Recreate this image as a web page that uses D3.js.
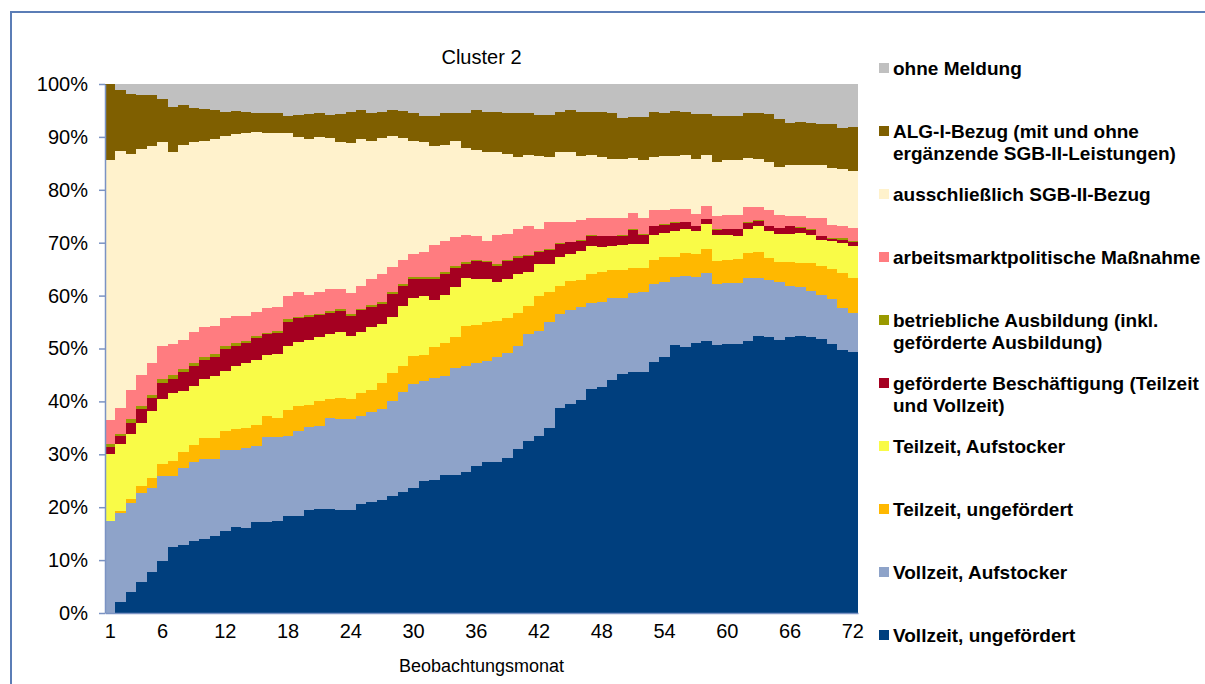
<!DOCTYPE html>
<html>
<meta charset="utf-8">
<style>
body {
	margin: 0;
	padding: 0;
	background: #fff;
}
svg {
	font-family: "Liberation Sans", Arial, sans-serif;
}
.axis path, .axis line {
	stroke: #7b93c3;
	stroke-width: 1.5px;
}
.axis text {
	font-size: 20px;
	fill: #000;
}
.legend text {
	font-size: 19px;
	font-weight: bold;
	fill: #000;
}
</style>
<body>
<svg id="chart" width="1205" height="684"></svg>

<script src="https://cdn.jsdelivr.net/npm/d3@7"></script>
<script>
// Beobachtungsmonate 1..72
var months = d3.range(1, 73);
var xTickLabels = [1, 6, 12, 18, 24, 30, 36, 42, 48, 54, 60, 66, 72];

// Anteile in Prozent je Monat
var vollzeitUngef = [0.0,2.0,3.9,5.8,7.7,9.8,12.4,12.9,13.6,14.0,14.6,15.5,
	16.2,16.0,17.2,17.2,17.3,18.3,18.4,19.4,19.6,19.7,19.5,19.5,
	20.6,20.9,21.3,22.2,22.9,23.7,25.0,25.2,26.1,26.1,26.7,27.7,
	28.6,28.6,29.3,31.0,32.6,33.4,35.0,38.8,39.6,40.2,42.3,42.7,
	44.1,45.1,45.6,45.6,47.5,48.3,50.6,50.2,51.0,51.5,50.7,50.8,
	50.8,51.5,52.4,52.1,51.7,52.1,52.3,52.1,51.8,50.8,49.8,49.3];
var vollzeitAufst = [17.3,16.9,16.9,16.9,16.0,16.1,13.5,14.5,14.9,15.1,14.5,15.3,
	14.6,15.2,14.4,16.0,15.9,15.1,16.0,15.8,15.7,17.1,17.1,17.1,
	16.6,17.1,17.3,17.9,18.9,19.5,18.9,19.2,18.7,20.3,19.9,19.5,
	19.1,19.7,19.8,19.5,20.1,19.9,20.0,17.7,17.6,17.7,16.3,16.1,
	15.4,14.4,14.8,15.0,14.6,14.3,12.9,13.5,12.6,12.7,11.5,11.5,
	11.5,11.8,10.9,10.8,10.9,9.7,9.4,8.8,8.4,8.5,7.9,7.5];
var teilzeitUngef = [0.0,0.3,0.7,1.4,1.8,2.3,2.8,3.0,3.3,3.9,3.9,3.6,
	3.9,3.7,4.0,4.0,3.7,5.0,4.8,4.2,4.8,3.6,4.0,3.9,
	4.4,4.2,4.8,5.3,4.9,5.4,4.9,5.8,6.2,5.7,7.7,7.2,
	7.3,6.9,6.6,6.3,5.3,6.6,5.6,5.3,5.6,5.1,5.4,5.6,
	5.3,5.3,4.9,4.7,4.7,4.7,3.8,4.4,4.2,4.6,4.4,4.5,
	4.7,4.8,5.0,4.2,3.7,4.5,4.5,5.2,5.4,5.8,6.6,6.6];
var teilzeitAufst = [12.8,12.8,12.4,11.8,12.7,12.3,12.8,11.6,11.1,11.2,11.8,11.4,
	12.0,12.4,12.2,11.6,12.1,12.1,12.1,12.2,12.1,12.4,12.5,11.9,
	11.5,11.8,11.2,10.6,11.3,11.0,11.1,9.0,9.2,9.5,9.1,8.8,
	8.2,7.4,7.5,7.2,6.4,6.0,5.3,5.5,5.0,5.4,5.3,4.8,
	4.5,4.7,4.5,4.5,4.6,4.6,4.9,4.4,4.4,4.8,4.9,4.7,
	4.2,4.4,4.8,5.1,5.4,5.4,5.7,5.3,4.9,5.2,5.7,5.9];
var gefBeschaeft = [1.3,1.4,2.0,2.7,2.5,3.0,2.8,3.5,3.7,3.6,3.5,4.1,
	3.8,3.7,4.1,3.9,3.9,4.5,4.4,4.4,4.1,4.0,4.0,3.8,
	4.1,3.9,3.8,4.3,3.9,3.6,3.3,4.0,3.9,3.7,2.6,3.3,
	3.1,3.0,3.3,3.1,3.1,2.4,2.7,2.5,2.3,2.0,2.0,2.0,
	1.9,1.8,2.6,1.7,1.7,1.5,1.6,1.4,0.9,0.8,0.9,1.0,
	1.3,1.3,1.0,0.9,1.0,1.4,0.9,1.0,0.7,0.4,0.6,0.9];
var betrAusbildung = [0.6,0.5,0.8,0.6,0.6,0.7,0.7,0.6,0.6,0.5,0.6,0.6,
	0.6,0.4,0.4,0.3,0.4,0.5,0.3,0.3,0.3,0.3,0.3,0.4,
	0.3,0.3,0.3,0.3,0.3,0.3,0.3,0.3,0.3,0.3,0.3,0.3,
	0.3,0.3,0.3,0.3,0.2,0.2,0.2,0.1,0.1,0.1,0.1,0.1,
	0.1,0.1,0.1,0.1,0.1,0.1,0.1,0.1,0.1,0.1,0.1,0.1,
	0.1,0.1,0.1,0.1,0.1,0.1,0.1,0.1,0.1,0.2,0.2,0.2];
var massnahme = [4.4,4.8,5.4,5.8,5.9,6.3,5.8,5.5,5.9,5.8,5.4,5.2,
	5.1,4.7,4.6,4.7,4.6,4.4,4.6,3.9,4.1,4.1,3.9,3.9,
	4.3,5.0,5.3,4.9,4.6,4.3,4.7,6.1,5.9,5.4,5.2,4.4,
	3.7,5.5,4.9,5.1,5.5,4.1,5.1,4.0,3.7,3.7,3.3,3.4,
	3.4,3.3,3.1,3.1,2.9,2.6,2.5,2.4,2.2,2.5,2.6,2.7,
	2.7,2.8,2.5,2.9,2.5,1.8,2.1,2.2,3.4,2.5,2.3,2.4];
var nurSgb2 = [49.3,48.7,44.7,42.8,41.0,38.6,36.3,36.9,35.9,35.2,35.3,34.5,
	34.4,34.7,34.1,33.1,32.8,30.8,29.3,29.4,29.2,28.6,27.7,28.3,
	27.8,26.1,25.8,24.6,23.0,21.5,20.9,18.6,18.2,18.3,16.4,16.4,
	16.8,15.8,15.1,13.7,13.4,13.8,12.3,13.3,13.2,12.1,11.9,11.5,
	11.1,11.1,10.5,11.0,10.1,10.3,10.0,10.2,10.4,9.6,10.1,10.4,
	10.4,9.3,9.2,9.1,9.0,9.7,9.7,10.0,10.0,10.7,10.8,10.7];
var alg1 = [14.3,11.5,11.3,10.1,9.7,8.1,8.6,7.5,6.4,5.9,5.5,4.6,
	4.3,4.0,3.6,3.8,3.8,3.3,4.3,4.7,4.6,4.4,5.3,6.0,
	5.4,5.2,4.9,4.9,5.1,5.2,4.9,5.7,6.0,5.3,6.7,7.5,
	7.6,7.5,7.8,8.3,7.9,7.8,8.0,7.6,7.9,8.4,8.1,8.6,
	8.7,7.7,7.7,8.1,8.6,8.2,8.5,8.1,8.5,7.7,8.8,8.3,
	8.3,8.5,8.7,9.1,9.0,8.0,8.2,8.0,7.8,8.3,7.7,8.4];
var ohneMeldung = [0.0,1.1,1.9,2.1,2.1,2.8,4.3,4.0,4.6,4.8,4.9,5.2,
	5.1,5.2,5.4,5.4,5.5,6.0,5.8,5.7,5.5,5.8,5.7,5.2,
	5.0,5.5,5.3,5.0,5.1,5.5,6.0,6.1,5.5,5.4,5.4,4.9,
	5.3,5.3,5.4,5.5,5.5,5.8,5.8,5.2,5.0,5.3,5.3,5.2,
	5.5,6.5,6.2,6.2,5.2,5.4,5.1,5.3,5.7,5.7,6.0,6.0,
	6.0,5.5,5.4,5.7,6.7,7.3,7.1,7.3,7.5,7.6,8.4,8.1];

// Reihenfolge von unten nach oben
var keys = ["vollzeitUngef", "vollzeitAufst", "teilzeitUngef", "teilzeitAufst", "gefBeschaeft",
	"betrAusbildung", "massnahme", "nurSgb2", "alg1", "ohneMeldung"];
var seriesValues = [vollzeitUngef, vollzeitAufst, teilzeitUngef, teilzeitAufst, gefBeschaeft,
	betrAusbildung, massnahme, nurSgb2, alg1, ohneMeldung];
var colors = ["#003f7e", "#8ea3c9", "#ffb800", "#f9fb47", "#a50021",
	"#9a9a00", "#ff7c80", "#fff2cc", "#7f5f00", "#c0c0c0"];
var legendLabels = [
	["Vollzeit, ungefördert"],
	["Vollzeit, Aufstocker"],
	["Teilzeit, ungefördert"],
	["Teilzeit, Aufstocker"],
	["geförderte Beschäftigung (Teilzeit", "und Vollzeit)"],
	["betriebliche Ausbildung (inkl.", "geförderte Ausbildung)"],
	["arbeitsmarktpolitische Maßnahme"],
	["ausschließlich SGB-II-Bezug"],
	["ALG-I-Bezug (mit und ohne", "ergänzende SGB-II-Leistungen)"],
	["ohne Meldung"]
];

var data = months.map(function(m, i) {
	var row = {month: m};
	keys.forEach(function(k, j) { row[k] = seriesValues[j][i]; });
	return row;
});

var svg = d3.select("#chart");

// Rahmen
svg.append("rect")
	.attr("x", 11).attr("y", 12)
	.attr("width", 1210).attr("height", 700)
	.attr("fill", "none")
	.attr("stroke", "#5b7db6")
	.attr("stroke-width", 2);

var plot = {left: 105, right: 858, top: 84, bottom: 613};

var x = d3.scaleBand().domain(months).range([plot.left, plot.right]).padding(0);
var y = d3.scaleLinear().domain([0, 1]).range([plot.bottom, plot.top]);

var stack = d3.stack().keys(keys).offset(d3.stackOffsetExpand);
var layers = stack(data);

svg.append("g").selectAll("g")
	.data(layers)
	.enter().append("g")
	.attr("fill", function(d, i) { return colors[i]; })
	.selectAll("rect")
	.data(function(d) { return d; })
	.enter().append("rect")
	.attr("shape-rendering", "crispEdges")
	.attr("x", function(d) { return x(d.data.month); })
	.attr("y", function(d) { return y(d[1]); })
	.attr("width", x.bandwidth())
	.attr("height", function(d) { return y(d[0]) - y(d[1]); });

// Achsen
svg.append("g")
	.attr("class", "axis")
	.attr("transform", "translate(0," + plot.bottom + ")")
	.call(d3.axisBottom(x).tickValues(xTickLabels).tickSize(0).tickPadding(11));

svg.append("g")
	.attr("class", "axis")
	.attr("transform", "translate(" + plot.left + ",0)")
	.call(d3.axisLeft(y).ticks(10).tickFormat(d3.format(".0%")).tickSizeInner(6).tickSizeOuter(0).tickPadding(11));

svg.append("text")
	.attr("x", (plot.left + plot.right) / 2)
	.attr("y", 64)
	.attr("text-anchor", "middle")
	.style("font-size", "20px")
	.text("Cluster 2");

svg.append("text")
	.attr("x", (plot.left + plot.right) / 2)
	.attr("y", 672)
	.attr("text-anchor", "middle")
	.style("font-size", "18px")
	.text("Beobachtungsmonat");

// Legende, oben beginnend
var legend = svg.append("g").attr("class", "legend");
var order = d3.range(keys.length).reverse();
order.forEach(function(idx, row) {
	var cy = 68 + row * 63;
	legend.append("rect")
		.attr("x", 879).attr("y", cy - 5)
		.attr("width", 10).attr("height", 10)
		.attr("fill", colors[idx]);
	legendLabels[idx].forEach(function(line, li) {
		legend.append("text")
			.attr("x", 893)
			.attr("y", cy + 7 + li * 21.5)
			.text(line);
	});
});
</script>
</body>
</html>
